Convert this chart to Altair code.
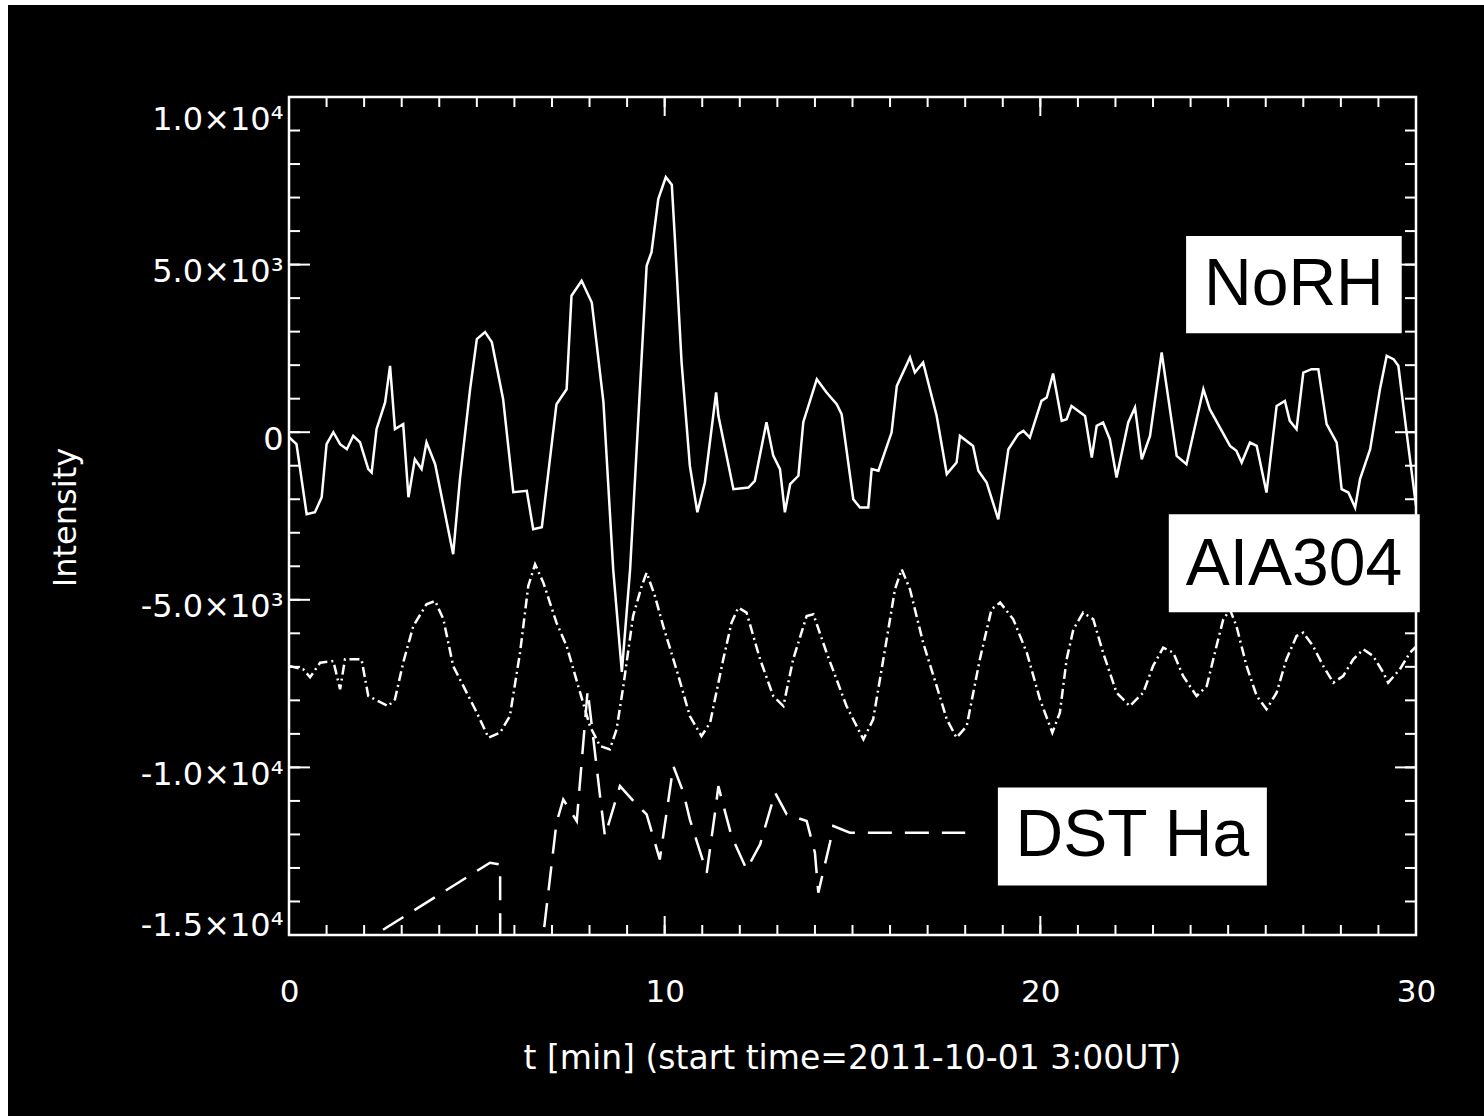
import altair as alt
import pandas as pd

# ---------------- data ----------------
norh_t = [0.0, 0.2, 0.47, 0.69, 0.87, 1.0, 1.18, 1.36, 1.54, 1.71, 1.89, 2.11, 2.2, 2.33, 2.56, 2.69,
          2.82, 3.04, 3.18, 3.35, 3.53, 3.66, 3.89, 4.37, 4.55, 4.82, 5.0, 5.22, 5.4, 5.7, 5.97, 6.33,
          6.5, 6.73, 7.12, 7.39, 7.52, 7.79, 8.06, 8.37, 8.63, 8.86, 9.08, 9.52, 9.65, 9.83, 10.03,
          10.19, 10.27, 10.45, 10.67, 10.87, 11.07, 11.37, 11.43, 11.83, 12.23, 12.40, 12.71, 12.89,
          13.07, 13.2, 13.34, 13.56, 13.69, 14.05, 14.31, 14.58, 14.71, 15.02, 15.2, 15.42, 15.51,
          15.69, 16.04, 16.18, 16.53, 16.66, 16.88, 17.24, 17.51, 17.77, 17.86, 18.21, 18.35, 18.57,
          18.88, 19.15, 19.41, 19.55, 19.72, 20.03, 20.17, 20.34, 20.57, 20.7, 20.83, 21.19, 21.37,
          21.5, 21.67, 21.85, 22.03, 22.34, 22.52, 22.7, 22.92, 23.23, 23.32, 23.63, 23.89, 24.34,
          24.51, 25.05, 25.22, 25.36, 25.58, 25.76, 26.02, 26.29, 26.51, 26.64, 26.82, 27.0, 27.22,
          27.4, 27.62, 27.89, 28.02, 28.2, 28.38, 28.51, 28.78, 29.04, 29.22, 29.4, 29.53, 29.75, 30.0]
norh_v = [-150, -358, -2448, -2388, -1940, -358, 0, -358, -507, -110, -300, -1100, -1200, 90, 895, 1980,
          90, 240, -1940, -806, -1100, -300, -955, -3640, -1400, 1280, 2776, 2985, 2686, 985, -1791, -1750,
          -2895, -2836, 836, 1280, 4070, 4516, 3870, 895, -4090, -7150, -4090, 4964, 5373, 6955, 7610,
          7380, 5820, 2090, -1000, -2390, -1500, 1190, 490, -1700, -1650, -1450, 300, -700,
          -1100, -2390, -1550, -1300, 300, 1580, 1185, 836, 537, -2000, -2250, -2250, -1100,
          -1150, -10, 1380, 2230, 1780, 2080, 490, -1250, -905, -110, -410, -1150, -1500,
          -2600, -507, -60, 40, -160, 935, 1035, 1750, 337, 388, 785, 487, -756,
          188, 290, -209, -1352, 290, 737, -806, -110, 2379, 1680, -707, -955, 1284,
          687, -408, -557, -905, -308, -408, -1800, 785, 935, 337, 90, 1780, 1880,
          1880, 240, -308, -1700, -1800, -2250, -1400, -507, 1284, 2279, 2180, 1980, -10, -2200]

aia_t = [0.0, 0.38, 0.56, 0.83, 1.18, 1.36, 1.49, 1.93, 2.11, 2.64, 2.82, 3.04, 3.31, 3.66, 3.89, 4.11,
         4.37, 5.0, 5.31, 5.62, 5.88, 6.15, 6.37, 6.55, 6.77, 7.12, 7.39, 7.75, 8.01, 8.28, 8.54, 8.72,
         8.9, 9.16, 9.39, 9.52, 9.74, 9.96, 10.34, 10.67, 10.98, 11.21, 11.56, 11.78, 11.96, 12.18,
         12.54, 12.89, 13.16, 13.42, 13.78, 13.96, 14.31, 14.84, 15.29, 15.55, 15.91, 16.13, 16.31,
         16.53, 16.88, 17.24, 17.51, 17.77, 18.04, 18.39, 18.7, 18.93, 19.28, 19.64, 19.99, 20.32,
         20.52, 20.7, 20.88, 21.14, 21.41, 21.67, 22.03, 22.38, 22.74, 23.0, 23.27, 23.54, 23.8,
         24.16, 24.43, 24.69, 24.87, 25.05, 25.22, 25.49, 25.76, 26.02, 26.29, 26.55, 26.82, 27.0,
         27.26, 27.53, 27.8, 28.06, 28.33, 28.6, 28.86, 29.13, 29.26, 29.57, 29.84, 30.0]
aia_v = [-6975, -7075, -7310, -6875, -6826, -7670, -6775, -6775, -7870, -8170, -7970, -6875, -5780, -5134,
         -5035, -5582, -6975, -8367, -9114, -8965, -8467, -6577, -4587, -3940, -4487, -5681, -6378, -7770,
         -8766, -9363, -9462, -8866, -7573, -5483, -4587, -4189, -4886, -5780, -7173, -8467, -9065, -8666,
         -6776, -5681, -5233, -5382, -6776, -7870, -8170, -6776, -5483, -5433, -6577, -8170, -9165, -8567,
         -6180, -4687, -4090, -4687, -6278, -7573, -8567, -9114, -8766, -6776, -5283, -5084, -5582, -6577,
         -7970, -8965, -8367, -6776, -5880, -5382, -5582, -6577, -7770, -8170, -7770, -6975, -6428, -6577,
         -7274, -7870, -7573, -6378, -5582, -5300, -5780, -6975, -7870, -8268, -7770, -6776, -6080, -5979,
         -6378, -6975, -7472, -7274, -6776, -6477, -6677, -7173, -7472, -7075, -6577, -6400]

dst_t = [0.0, 5.35, 5.62, 5.63, 6.5, 6.77, 7.12, 7.3, 7.66, 7.95, 8.28, 8.41, 8.81, 9.25, 9.52, 9.87,
         10.23, 10.5, 10.67, 11.12, 11.34, 11.43, 11.52, 11.78, 12.18, 12.54, 12.94, 13.25, 13.78,
         14.0, 14.09, 14.4, 14.49, 14.93, 18.0]
dst_v = [-16600, -12845, -12900, -25000, -17600, -15000, -11650, -10955, -11600, -7700, -10855, -12050,
         -10557, -11104, -11403, -12746, -9960, -10755, -11550, -13143, -11353, -10557, -10955, -12050,
         -13044, -12298, -10755, -11403, -11600, -12546, -13740, -12248, -11750, -11949, -11949]

x_tick_labels = [0, 10, 20, 30]
x_minor_ticks = list(range(0, 31))
y_tick_values = [-15000, -10000, -5000, 0, 5000, 10000]
y_tick_labels = ["-1.5×10⁴", "-1.0×10⁴", "-5.0×10³", "0", "5.0×10³", "1.0×10⁴"]
y_minor_ticks = list(range(-15000, 10001, 1000))

# annotation boxes (series names)
ann_names = ["NoRH", "AIA304", "DST Ha"]
ann_t0 = [23.88, 23.42, 18.87]
ann_t1 = [29.62, 30.10, 26.03]
ann_v0 = [5851, -2448, -10597]
ann_v1 = [2955, -5373, -13522]
ann_tc = [26.75, 26.75, 22.45]
ann_vc = [4400, -3950, -12060]

# ---------------- chart ----------------
W, H = 1127, 838
AXIS_FONT = "DejaVu Sans"

x_scale = alt.Scale(domain=[0, 30], nice=False, zero=False)
y_scale = alt.Scale(domain=[-15000, 10000], nice=False, zero=False)

expr = "''"
for v, lab in zip(y_tick_values, y_tick_labels):
    expr = f"datum.value == {v} ? '{lab}' : ({expr})"

x_axis = alt.Axis(values=x_tick_labels, format="d", ticks=False, tickSize=0, domain=False, grid=False,
                  labelFont=AXIS_FONT, labelFontSize=31, labelColor="white", labelPadding=57,
                  labelBaseline="middle", labelAngle=0, labelFlush=False, zindex=2,
                  title="t [min] (start time=2011-10-01 3:00UT)", titleFont=AXIS_FONT,
                  titleFontSize=33, titleFontWeight="normal", titleColor="white",
                  titleX=563, titleY=123, titleBaseline="middle", titleAlign="center")
y_axis = alt.Axis(values=y_tick_values, labelExpr=expr, ticks=False, tickSize=0, domain=False, grid=False,
                  labelFont=AXIS_FONT, labelFontSize=32, labelColor="white", labelPadding=6,
                  labelFlush=True, labelOffset=7, zindex=2,
                  title="Intensity", titleFont=AXIS_FONT, titleFontSize=32, titleFontWeight="normal",
                  titleColor="white", titleX=-224, titleY=420, titleAngle=270,
                  titleAlign="center", titleBaseline="middle")


def X(field):
    return alt.X(field, scale=x_scale, axis=x_axis)


def Y(field):
    return alt.Y(field, scale=y_scale, axis=y_axis)


background = alt.Chart(pd.DataFrame({"a": [0]})).mark_rect(color="black").encode(
    x=alt.value(8 - 289), x2=alt.value(1484 - 289), y=alt.value(5 - 97), y2=alt.value(1116 - 97))

frame = alt.Chart(pd.DataFrame({"a": [0]})).mark_rect(
    filled=False, stroke="white", strokeWidth=2.5).encode(
    x=alt.value(0), x2=alt.value(W), y=alt.value(0), y2=alt.value(H))


def xticks(vals, y0, y1):
    return alt.Chart(pd.DataFrame({"t": vals})).mark_rule(color="white", strokeWidth=2).encode(
        x=X("t:Q"), y=alt.value(y0), y2=alt.value(y1))


def yticks(vals, x0, x1):
    return alt.Chart(pd.DataFrame({"v": vals})).mark_rule(color="white", strokeWidth=2).encode(
        y=Y("v:Q"), x=alt.value(x0), x2=alt.value(x1))


ticks = [
    xticks(x_minor_ticks, H, H - 10), xticks(x_tick_labels, H, H - 19),
    xticks(x_minor_ticks, 0, 10), xticks(x_tick_labels, 0, 19),
    yticks(y_minor_ticks, 0, 11), yticks(y_tick_values, 0, 21),
    yticks(y_minor_ticks, W, W - 11), yticks(y_tick_values, W, W - 21),
]

norh = alt.Chart(pd.DataFrame({"t": norh_t, "v": norh_v})).mark_line(
    color="white", strokeWidth=2.5, clip=True).encode(x=X("t:Q"), y=Y("v:Q"))

aia = alt.Chart(pd.DataFrame({"t": aia_t, "v": aia_v})).mark_line(
    color="white", strokeWidth=2.5, strokeDash=[10, 4, 2, 4], clip=True).encode(x=X("t:Q"), y=Y("v:Q"))

dst = alt.Chart(pd.DataFrame({"t": dst_t, "v": dst_v})).mark_line(
    color="white", strokeWidth=2.5, strokeDash=[24, 13], clip=True).encode(x=X("t:Q"), y=Y("v:Q"))

ann = pd.DataFrame({"name": ann_names, "t0": ann_t0, "t1": ann_t1, "v0": ann_v0, "v1": ann_v1,
                    "tc": ann_tc, "vc": ann_vc})
boxes = alt.Chart(ann).mark_rect(color="white").encode(
    x=X("t0:Q"), x2="t1:Q", y=Y("v0:Q"), y2="v1:Q")
labels = alt.Chart(ann).mark_text(font="Liberation Sans", fontSize=66, color="black",
                                  align="center", baseline="middle").encode(
    x=X("tc:Q"), y=Y("vc:Q"), text="name:N")

chart = alt.layer(background, *ticks, frame, norh, aia, dst, boxes, labels).properties(
    width=W, height=H,
    autosize=alt.AutoSizeParams(type="none"),
    padding={"left": 289, "top": 97, "right": 1484 - 289 - W, "bottom": 1116 - 97 - H},
).configure(background="white").configure_view(stroke=None)

chart.save("out.html", embed_options={"renderer": "svg", "actions": False})
